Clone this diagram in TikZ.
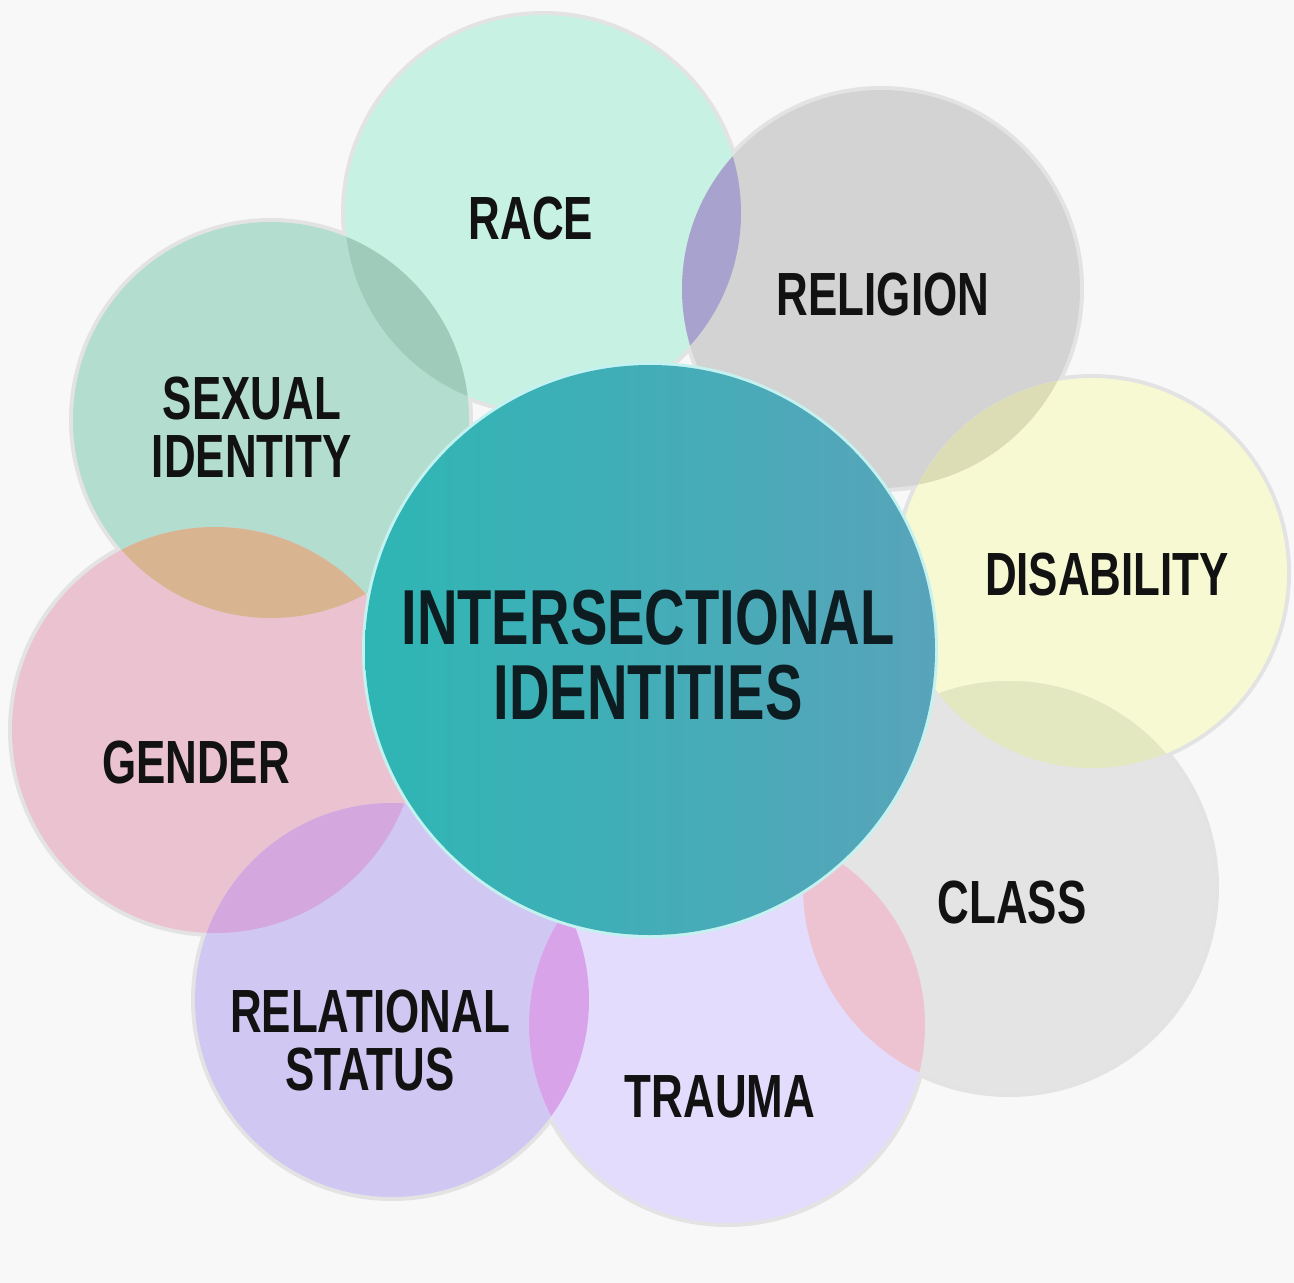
\documentclass[tikz,border=0pt]{standalone}
\usepackage{fontspec}
\newfontfamily\lblfont{Liberation Sans}[FakeStretch=0.72]
\definecolor{bgc}{HTML}{F8F8F8}
\definecolor{haloc}{HTML}{E3E3E3}
\definecolor{racec}{HTML}{C6F1E3}
\definecolor{sexc}{HTML}{B3DECF}
\definecolor{relc}{HTML}{D3D3D3}
\definecolor{disc}{HTML}{F7F9D3}
\definecolor{genc}{HTML}{EBC3D0}
\definecolor{classc}{HTML}{E4E4E4}
\definecolor{rlsc}{HTML}{D0C8F2}
\definecolor{trac}{HTML}{E3DCFD}
\definecolor{ovRR}{HTML}{A8A2CE}
\definecolor{ovRS}{HTML}{9FCCBA}
\definecolor{ovSG}{HTML}{D8B491}
\definecolor{ovGR}{HTML}{D4A7DE}
\definecolor{ovRT}{HTML}{D9A3EA}
\definecolor{ovTC}{HTML}{EEC3D1}
\definecolor{ovDC}{HTML}{E4E8C0}
\definecolor{ovRD}{HTML}{DCDDB4}
\definecolor{cenA}{HTML}{2EB6B4}
\definecolor{cenB}{HTML}{58A4BA}
\definecolor{cenrim}{HTML}{C4F2F0}
\definecolor{labeltext}{HTML}{121212}
\definecolor{centext}{HTML}{0C1C20}
\begin{document}
\begin{tikzpicture}[x=1pt,y=-1pt,
  lbl/.style={font=\lblfont\bfseries\fontsize{61}{58}\selectfont, text=labeltext, inner sep=0pt, align=center},
  bigl/.style={font=\lblfont\bfseries\fontsize{78}{75}\selectfont, text=centext, inner sep=0pt, align=center}]
\useasboundingbox (0,0) rectangle (1294,1283);
\fill[bgc] (0,0) rectangle (1294,1283);
% centres
\coordinate (cRace) at (543,213);
\coordinate (cRel)  at (881,289);
\coordinate (cSex)  at (271,420);
\coordinate (cDis)  at (1092,573);
\coordinate (cGen)  at (215,730);
\coordinate (cCls)  at (1009,887);
\coordinate (cRls)  at (392,1000);
\coordinate (cTra)  at (727,1025);
\coordinate (cCen)  at (650,650);
% soft halos
\foreach \c/\r in {cRace/202,cRel/203,cSex/202,cDis/199,cGen/207,cCls/210,cRls/201,cTra/202}
  \fill[haloc] (\c) circle (\r pt);
% base circles
\fill[racec] (cRace) circle (198pt);
\fill[relc] (cRel) circle (199pt);
\fill[sexc] (cSex) circle (198pt);
\fill[disc] (cDis) circle (195pt);
\fill[genc] (cGen) circle (203pt);
\fill[classc] (cCls) circle (206pt);
\fill[rlsc] (cRls) circle (197pt);
\fill[trac] (cTra) circle (198pt);
% overlaps
\begin{scope}\clip (cRace) circle (198pt); \fill[ovRR] (cRel) circle (199pt); \end{scope}
\begin{scope}\clip (cRace) circle (198pt); \fill[ovRS] (cSex) circle (198pt); \end{scope}
\begin{scope}\clip (cSex) circle (198pt); \fill[ovSG] (cGen) circle (203pt); \end{scope}
\begin{scope}\clip (cGen) circle (203pt); \fill[ovGR] (cRls) circle (197pt); \end{scope}
\begin{scope}\clip (cRls) circle (197pt); \fill[ovRT] (cTra) circle (198pt); \end{scope}
\begin{scope}\clip (cTra) circle (198pt); \fill[ovTC] (cCls) circle (206pt); \end{scope}
\begin{scope}\clip (cDis) circle (195pt); \fill[ovDC] (cCls) circle (206pt); \end{scope}
\begin{scope}\clip (cRel) circle (199pt); \fill[ovRD] (cDis) circle (195pt); \end{scope}
% centre circle
\fill[cenrim] (cCen) circle (288pt);
\shade[left color=cenA, right color=cenB] (cCen) circle (285pt);
% labels
\node[lbl] (race) at (531,218) {RACE};
\node[lbl] (religion) at (883,294) {RELIGION};
\node[lbl] (sexual) at (252,427) {SEXUAL\\IDENTITY};
\node[lbl] (disability) at (1107,574) {DISABILITY};
\node[bigl] (inter) at (648,655) {INTERSECTIONAL\\IDENTITIES};
\node[lbl] (gender) at (196,762) {GENDER};
\node[lbl] (class) at (1012,902) {CLASS};
\node[lbl] (relational) at (370,1040) {RELATIONAL\\STATUS};
\node[lbl] (trauma) at (720,1097) {TRAUMA};
\end{tikzpicture}
\end{document}
